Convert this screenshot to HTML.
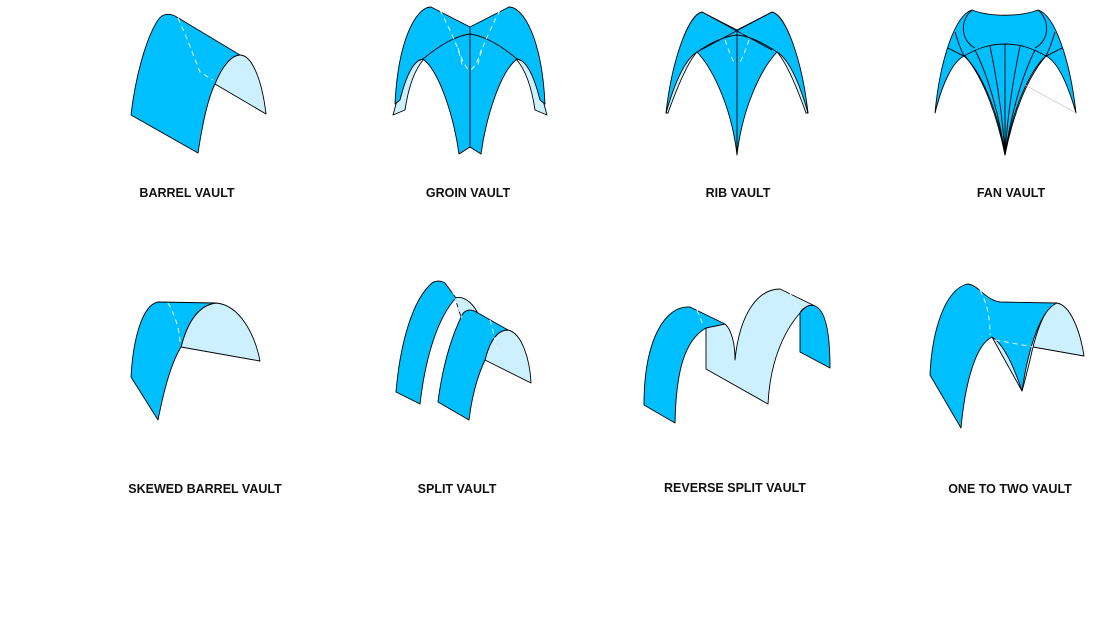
<!DOCTYPE html>
<html><head><style>
body{margin:0;background:#fff;}
svg{display:block}
text{font-family:"Liberation Sans",Arial,sans-serif;font-weight:bold;font-size:12.5px;fill:#111;text-anchor:middle}
.b{fill:#00bfff;stroke:#000;stroke-width:0.9;stroke-linejoin:round}
.l{fill:#cdf0ff;stroke:#000;stroke-width:0.9;stroke-linejoin:round}
.d{fill:none;stroke:#e8f8ff;stroke-width:1;stroke-dasharray:5,4}
.k{fill:none;stroke:#000;stroke-width:0.9}
</style></head><body>
<svg width="1100" height="629" viewBox="0 0 1100 629">
<!-- Barrel vault -->
<path class="l" d="M215,84 C222,66 232,55 240,55 C252,55 262,80 266,114 Z"/>
<path class="b" d="M131,115 L198,153 C203,120 208,98 215,84 C222,66 232,55 240,55 L175,16 C168,13 162,14 158,20 C145,40 135,80 131,115 Z"/>
<path class="d" d="M178,18 C188,40 195,60 200,72 L213,80"/>
<text x="187" y="197">BARREL VAULT</text>

<!-- Groin vault -->
<path class="l" d="M393,115 L396,104 C402,75 413,60 424,59 C414,70 408,90 405,110 Z"/>
<path class="l" d="M547,115 L544,104 C538,75 527,60 516,59 C526,70 532,90 535,110 Z"/>
<path class="b" d="M395,104 C398,40 416,7 431,7 L470,27 L509,7 C524,7 542,40 545,104 L540,100 C533,72 525,60 517,59 C500,72 486,118 481,154 L470,147 L459,154 C454,118 440,72 423,59 C415,60 407,72 400,100 Z"/>
<path class="k" d="M423,59 C440,45 455,36 470,34 C485,36 500,45 517,59 M470,27 L470,147"/>
<path class="d" d="M440,10 C450,30 460,50 462,65 M500,10 C490,30 480,50 478,65 M458,48 C462,60 465,68 470,70 C475,68 478,60 482,48"/>
<text x="468" y="197">GROIN VAULT</text>

<!-- Rib vault -->
<path class="l" d="M666,113 C672,80 685,58 697,52 C688,62 678,85 668,113 Z"/>
<path class="l" d="M808,113 C802,80 789,58 777,52 C786,62 796,85 806,113 Z"/>
<path class="b" d="M666,113 C672,60 688,15 702,12 L737,30 L772,12 C786,15 802,60 808,113 C800,85 790,60 777,52 C760,70 742,110 737,155 C732,110 714,70 697,52 C684,60 674,85 666,113 Z"/>
<path class="k" d="M702,12 L772,50 M772,12 L697,52 M737,30 L737,155 M697,52 C712,42 725,36 737,35 C749,36 762,42 777,52"/>
<path class="d" d="M725,40 C730,55 733,60 735,65 M749,40 C744,55 741,60 739,65"/>
<text x="738" y="197">RIB VAULT</text>

<!-- Fan vault -->
<path class="b" d="M935,113 C940,60 955,15 972,10 C990,17 1020,17 1038,10 C1055,15 1070,60 1076,113 C1068,85 1058,62 1046,56 C1030,70 1012,110 1005,155 C998,110 980,70 964,56 C952,62 942,85 935,113 Z"/>
<path class="k" d="M964,56 C978,48 990,44 1005,44 C1020,44 1032,48 1046,56 M972,10 C960,20 960,40 975,48 M1038,10 C1050,20 1050,40 1035,48 M965,56 C985,80 998,120 1005,155 M975,50 C990,80 1000,120 1005,155 M990,46 C997,80 1003,120 1005,155 M1005,44 L1005,155 M1020,46 C1013,80 1007,120 1005,155 M1035,50 C1020,80 1010,120 1005,155 M1046,56 C1025,80 1012,120 1005,155 M955,32 C958,42 961,50 964,56 M948,48 C954,51 959,54 964,56 M1055,32 C1052,42 1049,50 1046,56 M1062,48 C1056,51 1051,54 1046,56"/>
<path d="M1025,85 L1076,113" stroke="#bbb" stroke-width="0.7"/>
<text x="1011" y="197">FAN VAULT</text>

<!-- Skewed barrel -->
<path class="l" d="M181,347 C188,320 200,305 216,303 C240,305 255,335 260,361 Z"/>
<path class="b" d="M131,377 L158,420 C163,395 170,365 181,347 C188,320 200,305 216,303 L158,302 C142,305 133,340 131,377 Z"/>
<path class="d" d="M168,303 C175,315 180,330 180,345"/>
<text x="205" y="493">SKEWED BARREL VAULT</text>

<!-- Split vault -->
<path class="l" d="M455,298 C465,295 475,305 480,318 L473,312 C466,315 462,320 462,320 Z"/>
<path class="b" d="M396,392 L420,404 C425,360 437,318 456,298 L445,283 C440,280 435,281 432,283 C412,300 400,345 396,392 Z"/>
<path class="l" d="M485,360 C490,340 498,330 508,330 C522,333 530,360 531,383 Z"/>
<path class="b" d="M438,402 L469,420 C472,395 478,375 485,360 C490,340 498,330 508,330 L478,313 C470,308 465,310 462,315 C450,340 442,370 438,402 Z"/>
<path class="d" d="M452,290 L462,318 M490,320 C495,335 495,350 500,355"/>
<text x="457" y="493">SPLIT VAULT</text>

<!-- Reverse split -->
<path class="l" d="M706,328 C712,324 718,322 725,324 C732,330 735,345 735,360 C740,310 760,289 780,289 L815,306 C808,305 802,308 800,313 C785,330 770,360 768,404 L706,369 Z"/>
<path class="b" d="M800,313 C805,306 810,304 815,306 C825,310 830,330 830,368 L800,352 Z"/>
<path class="b" d="M644,405 L675,423 C676,370 685,340 706,328 L725,324 L690,307 C665,305 644,340 644,405 Z"/>
<path class="d" d="M697,310 L703,325 M790,293 L796,305"/>
<text x="735" y="492">REVERSE SPLIT VAULT</text>

<!-- One to two -->
<path class="l" d="M992,337 L1022,391 C1028,370 1031,355 1033,347 C1040,320 1048,305 1057,303 C1070,305 1080,330 1084,356 L1033,347 Z"/>
<path class="b" d="M930,375 L961,428 C965,385 975,345 992,337 C1005,345 1015,370 1022,391 C1028,350 1040,310 1057,303 L1000,302 C985,300 978,284 967,284 C945,290 932,330 930,375 Z"/>
<path class="d" d="M980,290 C988,305 990,320 990,335 M995,340 L1033,347"/>
<text x="1010" y="493">ONE TO TWO VAULT</text>
</svg>
</body></html>
